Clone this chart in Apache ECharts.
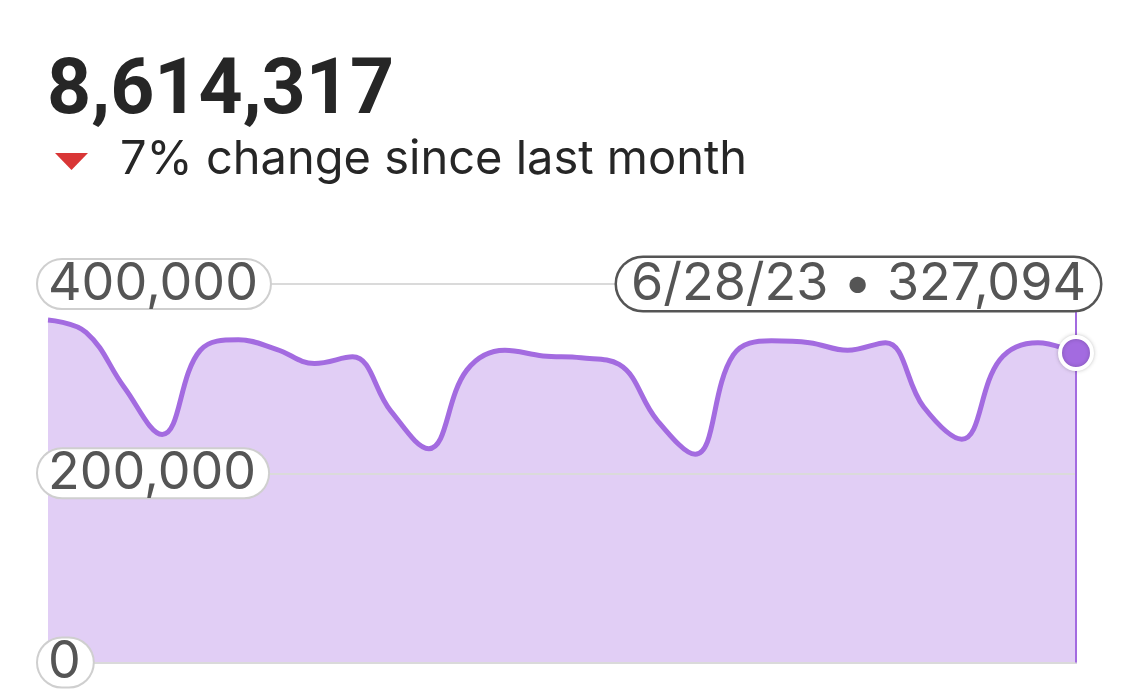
<!DOCTYPE html>
<html><head><meta charset="utf-8">
<script src="https://cdn.jsdelivr.net/npm/echarts@6/dist/echarts.min.js"></script>
<style>html,body{margin:0;padding:0;background:#fff}#c{width:1125px;height:696px}</style>
</head><body><div id="c"></div>
<script>
const dates = ['6/1/23','6/2/23','6/3/23','6/4/23','6/5/23','6/6/23','6/7/23','6/8/23','6/9/23','6/10/23',
  '6/11/23','6/12/23','6/13/23','6/14/23','6/15/23','6/16/23','6/17/23','6/18/23','6/19/23','6/20/23',
  '6/21/23','6/22/23','6/23/23','6/24/23','6/25/23','6/26/23','6/27/23','6/28/23'];
const values = [362000,349000,291000,241000,330000,341000,331000,316000,323000,266000,
  226000,309000,330000,324000,322000,315000,256000,220000,325000,340000,
  338000,330000,338000,270000,236000,320000,338000,327094];
const yTicks = [0, 200000, 400000];
const totalText = '8,614,317';
const changeText = '7% change since last month';

const fmt = v => v.toLocaleString('en-US');
const lastIdx = values.length - 1;
const purple = '#a36be0';

const chart = echarts.init(document.getElementById('c'), null, {renderer: 'canvas'});
chart.setOption({
  animation: false,
  grid: {left: 48, right: 49, top: 284, bottom: 33.5},
  xAxis: {
    type: 'category', data: dates, boundaryGap: false,
    axisLine: {show: true, lineStyle: {color: '#cbbcdf', width: 2}},
    axisTick: {show: false}, axisLabel: {show: false}, splitLine: {show: false}
  },
  yAxis: {
    type: 'value', min: yTicks[0], max: yTicks[yTicks.length - 1], interval: 200000,
    axisLine: {show: false}, axisTick: {show: false},
    splitLine: {show: true, lineStyle: {color: '#dadada', width: 2}},
    axisLabel: {
      inside: true, margin: -10, formatter: v => fmt(v),
      color: '#555', fontFamily: 'Inter', fontSize: 52,
      backgroundColor: '#fff', borderColor: '#cfcfcf', borderWidth: 2,
      borderRadius: 26, padding: [0, 12, 0, 10], lineHeight: 48
    },
    z: 5
  },
  graphic: [
    {type: 'text', left: 47, top: 55, style: {text: totalText, font: 'bold 77px Roboto', fill: '#262626'}},
    {type: 'polygon', shape: {points: [[55,153],[88,153],[71.5,170]]}, style: {fill: '#d93636'}},
    {type: 'text', left: 120, top: 136, style: {text: changeText, font: '47px Inter', fill: '#262626'}}
  ],
  series: [
    {
      type: 'line', data: values, smooth: 0.4, symbol: 'none',
      lineStyle: {color: purple, width: 5},
      areaStyle: {color: purple, opacity: 0.33},
      markLine: {
        silent: true, symbol: 'none',
        lineStyle: {color: purple, width: 2, type: 'solid'},
        label: {show: false},
        data: [[{coord: [lastIdx, 0]}, {coord: [lastIdx, yTicks[yTicks.length - 1]]}]]
      },
      markPoint: {
        silent: true, symbol: 'circle', symbolSize: 1,
        itemStyle: {color: 'rgba(0,0,0,0)'},
        label: {
          show: true, position: 'inside', align: 'right', offset: [24, 0],
          formatter: () => dates[lastIdx] + ' \u2022 ' + fmt(values[lastIdx]),
          color: '#555', fontFamily: 'Inter', fontSize: 52, lineHeight: 48,
          backgroundColor: '#fff', borderColor: '#555', borderWidth: 2.5,
          borderRadius: 26, padding: [2, 14, 2, 14]
        },
        data: [{coord: [lastIdx, yTicks[yTicks.length - 1]]}]
      }
    },
    {
      type: 'scatter', data: [[lastIdx, values[lastIdx]]], symbol: 'circle', symbolSize: 32,
      itemStyle: {color: purple, opacity: 1, borderColor: '#fff', borderWidth: 4, shadowColor: 'rgba(0,0,0,0.2)', shadowBlur: 4},
      z: 10
    }
  ]
});
</script></body></html>
